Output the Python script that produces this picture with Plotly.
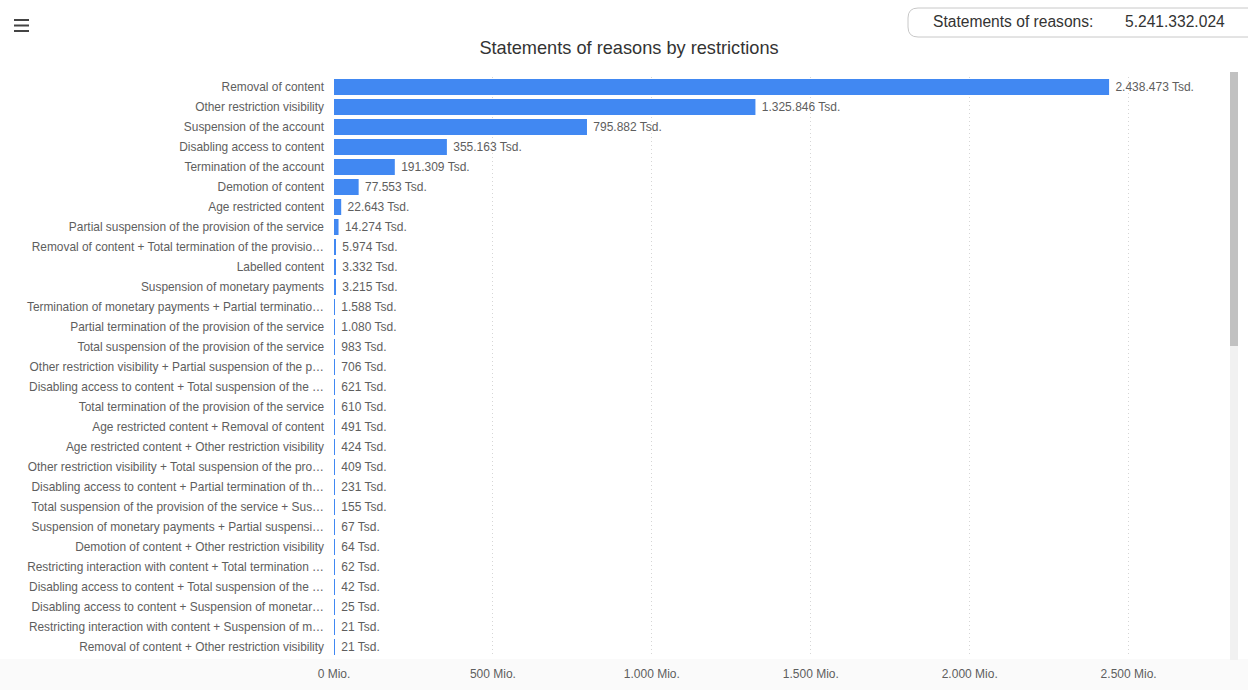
import plotly.graph_objects as go

categories = [
    "Removal of content",
    "Other restriction visibility",
    "Suspension of the account",
    "Disabling access to content",
    "Termination of the account",
    "Demotion of content",
    "Age restricted content",
    "Partial suspension of the provision of the service",
    "Removal of content + Total termination of the provisio…",
    "Labelled content",
    "Suspension of monetary payments",
    "Termination of monetary payments + Partial terminatio…",
    "Partial termination of the provision of the service",
    "Total suspension of the provision of the service",
    "Other restriction visibility + Partial suspension of the p…",
    "Disabling access to content + Total suspension of the …",
    "Total termination of the provision of the service",
    "Age restricted content + Removal of content",
    "Age restricted content + Other restriction visibility",
    "Other restriction visibility + Total suspension of the pro…",
    "Disabling access to content + Partial termination of th…",
    "Total suspension of the provision of the service + Sus…",
    "Suspension of monetary payments + Partial suspensi…",
    "Demotion of content + Other restriction visibility",
    "Restricting interaction with content + Total termination …",
    "Disabling access to content + Total suspension of the …",
    "Disabling access to content + Suspension of monetar…",
    "Restricting interaction with content + Suspension of m…",
    "Removal of content + Other restriction visibility",
]

# values in thousands (Tsd.)
values_tsd = [
    2438473, 1325846, 795882, 355163, 191309, 77553, 22643, 14274, 5974,
    3332, 3215, 1588, 1080, 983, 706, 621, 610, 491, 424, 409, 231, 155,
    67, 64, 62, 42, 25, 21, 21,
]

tick_values_tsd = [0, 500000, 1000000, 1500000, 2000000, 2500000]
tick_labels = ["0 Mio.", "500 Mio.", "1.000 Mio.", "1.500 Mio.", "2.000 Mio.", "2.500 Mio."]

total_label = "Statements of reasons:"
total_value = "5.241.332.024"
title_text = "Statements of reasons by restrictions"


def fmt(v):
    return "\u00a0" + f"{v:,}".replace(",", ".") + " Tsd."


bar_text = [fmt(v) for v in values_tsd]
row_pos = list(range(len(categories)))

FONT = "Liberation Sans, Arial, Helvetica, sans-serif"
TXT = "#5e5e5e"
WIDTH, HEIGHT = 1248, 690
L, R, T, B = 334, 24, 77, 33
PW = WIDTH - L - R
PH = HEIGHT - T - B


def px(x):
    return (x - L) / PW


def py(y):
    return (HEIGHT - B - y) / PH


fig = go.Figure(
    go.Bar(
        x=values_tsd,
        y=row_pos,
        orientation="h",
        marker=dict(color="#4188f2", line=dict(width=0)),
        text=bar_text,
        textposition="outside",
        textfont=dict(family=FONT, size=12, color=TXT),
        cliponaxis=False,
        hoverinfo="skip",
    )
)

shapes = []
# bottom light strip
shapes.append(dict(type="rect", xref="paper", yref="paper", x0=px(0), x1=px(WIDTH),
                   y0=py(659), y1=py(690), fillcolor="rgba(0,0,0,0.02)", line=dict(width=0),
                   layer="below"))
# scrollbar track and thumb
shapes.append(dict(type="rect", xref="paper", yref="paper", x0=px(1230), x1=px(1238),
                   y0=py(660), y1=py(72), fillcolor="#f1f1f1", line=dict(width=0)))
shapes.append(dict(type="rect", xref="paper", yref="paper", x0=px(1230), x1=px(1238),
                   y0=py(346), y1=py(72), fillcolor="#c1c1c1", line=dict(width=0)))
# hamburger icon
for yy in (20, 25.5, 31):
    shapes.append(dict(type="line", xref="paper", yref="paper", x0=px(14), x1=px(29),
                       y0=py(yy), y1=py(yy), line=dict(color="#444444", width=2)))

# rounded box top-right
x0b, x1b, y0b, y1b, r = 908, 1258, 8, 37, 10
rx, ry = r / PW, r / PH
X0, X1, Y0, Y1 = px(x0b), px(x1b), py(y1b), py(y0b)
path = (f"M {X0+rx},{Y1} L {X1-rx},{Y1} Q {X1},{Y1} {X1},{Y1-ry} L {X1},{Y0+ry} "
        f"Q {X1},{Y0} {X1-rx},{Y0} L {X0+rx},{Y0} Q {X0},{Y0} {X0},{Y0+ry} "
        f"L {X0},{Y1-ry} Q {X0},{Y1} {X0+rx},{Y1} Z")
shapes.append(dict(type="path", xref="paper", yref="paper", path=path,
                   line=dict(color="#c8c8c8", width=1), fillcolor="white"))

annotations = [
    dict(text=total_label, xref="paper", yref="paper", x=px(931), y=py(22),
         xanchor="left", yanchor="middle", showarrow=False,
         font=dict(family=FONT, size=15.6, color="#333333")),
    dict(text=total_value, xref="paper", yref="paper", x=px(1227), y=py(22),
         xanchor="right", yanchor="middle", showarrow=False,
         font=dict(family=FONT, size=15.6, color="#333333")),
]

fig.update_layout(
    width=WIDTH,
    height=HEIGHT,
    margin=dict(l=L, r=R, t=T, b=B, pad=0, autoexpand=False),
    paper_bgcolor="white",
    plot_bgcolor="white",
    showlegend=False,
    bargap=0.2,
    title=dict(text=title_text, x=629 / WIDTH, xanchor="center", xref="container",
               y=1 - 48 / HEIGHT, yanchor="middle", yref="container",
               font=dict(family=FONT, size=18.2, color="#333333")),
    font=dict(family=FONT, size=12, color=TXT),
    shapes=shapes,
    annotations=annotations,
    xaxis=dict(
        range=[0, 2800000],
        tickvals=tick_values_tsd,
        ticktext=tick_labels,
        showgrid=True,
        gridcolor="#d6d6d6",
        griddash="1px,3px",
        gridwidth=1,
        zeroline=False,
        showline=False,
        ticks="",
        ticklabelstandoff=8,
        tickfont=dict(family=FONT, size=12, color=TXT),
        fixedrange=True,
        automargin=False,
    ),
    yaxis=dict(
        range=[len(categories) - 0.5, -0.5],
        tickvals=row_pos,
        ticktext=categories,
        showgrid=False,
        zeroline=False,
        showline=False,
        ticks="",
        ticklabelstandoff=9,
        tickfont=dict(family=FONT, size=11.9, color=TXT),
        fixedrange=True,
        automargin=False,
    ),
)

fig.write_html("out.html", config={"displayModeBar": False})
